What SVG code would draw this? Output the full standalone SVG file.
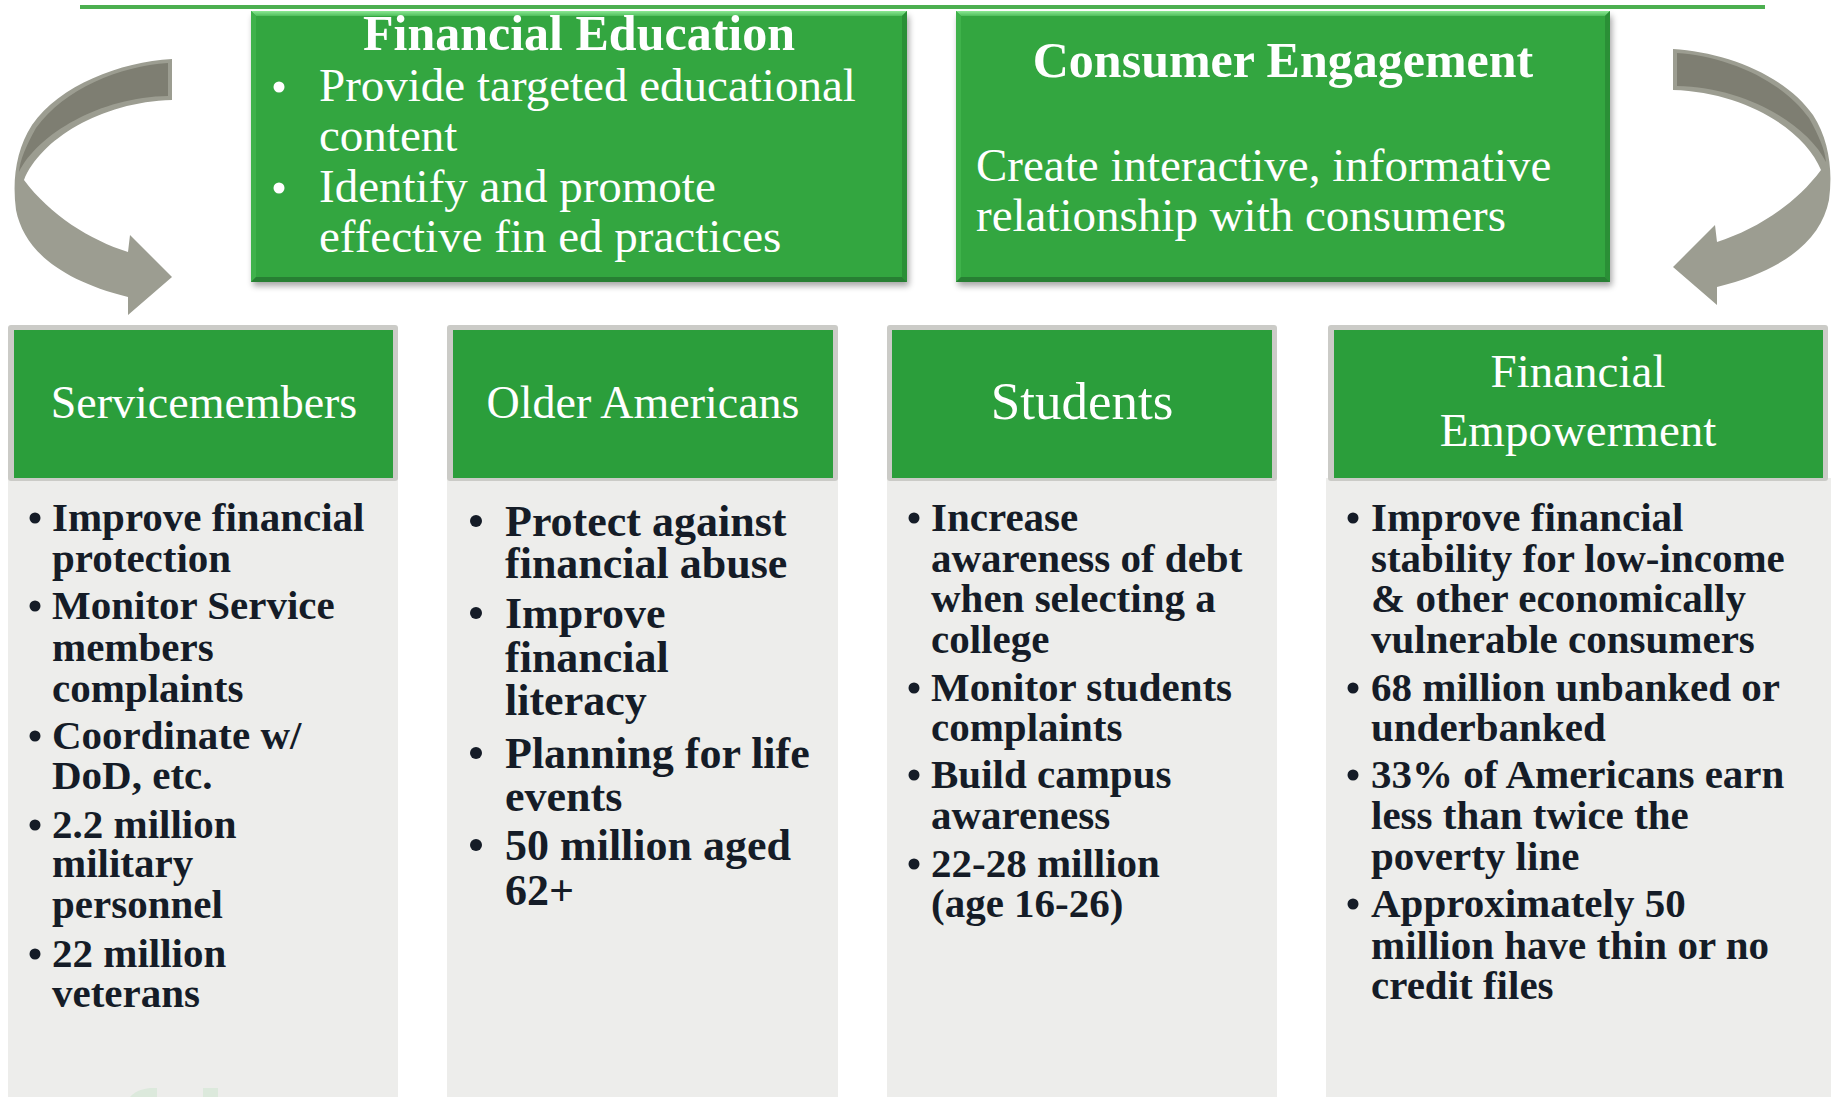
<svg xmlns="http://www.w3.org/2000/svg" width="1839" height="1097" viewBox="0 0 1839 1097">
  <defs>
    <style>
      .box-title { font-family: "Liberation Serif", serif; font-weight: bold; font-size: 50px; fill: #ffffff; text-anchor: middle; }
      .box-text { font-family: "Liberation Serif", serif; font-size: 47px; fill: #ffffff; }
      .col-head { font-family: "Liberation Serif", serif; font-size: 46px; fill: #ffffff; text-anchor: middle; }
      .col-text { font-family: "Liberation Serif", serif; font-weight: bold; font-size: 41px; fill: #151c27; }
      .col-text-lg { font-family: "Liberation Serif", serif; font-weight: bold; font-size: 44px; fill: #151c27; }
      .dot-w { fill: #ffffff; }
      .dot-d { fill: #151c27; }
      .frame { fill: #cbcbc7; }
      .body { fill: #ededeb; }
      .head { fill: #2b9e3b; }
      .green { fill: #33a640; }
      .arrow-light { fill: #9c9d91; }
      .arrow-dark { fill: #7e7e72; }
    </style>
    <filter id="softShadow" x="-10%" y="-10%" width="120%" height="130%">
      <feGaussianBlur stdDeviation="3"/>
    </filter>
    <linearGradient id="bevelTop" x1="0" y1="0" x2="0" y2="1">
      <stop offset="0" stop-color="#8be894"/>
      <stop offset="1" stop-color="#4fbf5b"/>
    </linearGradient>
    <!-- curved arrow, drawn once and mirrored -->
    <g id="curvedArrow">
      <path class="arrow-light" d="M172,59 C120,62 60,85 32,125 C16,150 12,180 16,210 C24,250 60,280 128,297 L128,315 L172,277 L130,235 L128,252 C90,240 50,215 24,180 C40,140 100,102 172,100 Z"/>
      <path class="arrow-dark" d="M168,63 C120,66 64,89 36,128 C26,146 20,160 19,172 C38,134 100,97 168,96 Z"/>
    </g>
  </defs>

  <rect width="1839" height="1097" fill="#ffffff"/>

  <!-- rule along the top -->
  <rect x="80" y="5" width="1685" height="4" fill="#4caf50"/>

  <!-- flow arrows -->
  <g id="connectors">
    <use href="#curvedArrow"/>
    <use href="#curvedArrow" transform="matrix(-1 0 0 1 1845 -10)"/>
  </g>

  <!-- Financial Education -->
  <g id="financial-education">
    <rect x="253" y="16" width="656" height="270" fill="#000" opacity="0.35" filter="url(#softShadow)"/>
    <rect class="green" x="251" y="11" width="656" height="271"/>
    <polygon points="251,11 907,11 902,16 256,16" fill="url(#bevelTop)"/>
    <polygon points="251,11 256,16 256,277 251,282" fill="#3fb24b"/>
    <polygon points="907,11 907,282 902,277 902,16" fill="#2a8f36"/>
    <polygon points="251,282 907,282 902,277 256,277" fill="#277f33"/>
    <text class="box-title" x="579" y="50">Financial Education</text>
    <circle class="dot-w" cx="279" cy="87" r="5.5"/>
    <circle class="dot-w" cx="279" cy="188" r="5.5"/>
    <text class="box-text" x="319" y="101">Provide targeted educational<tspan x="319" dy="50">content</tspan></text>
    <text class="box-text" x="319" y="202">Identify and promote<tspan x="319" dy="50">effective fin ed practices</tspan></text>
  </g>

  <!-- Consumer Engagement -->
  <g id="consumer-engagement">
    <rect x="958" y="16" width="654" height="270" fill="#000" opacity="0.35" filter="url(#softShadow)"/>
    <rect class="green" x="956" y="11" width="654" height="271"/>
    <polygon points="956,11 1610,11 1605,16 961,16" fill="url(#bevelTop)"/>
    <polygon points="956,11 961,16 961,277 956,282" fill="#3fb24b"/>
    <polygon points="1610,11 1610,282 1605,277 1605,16" fill="#2a8f36"/>
    <polygon points="956,282 1610,282 1605,277 961,277" fill="#277f33"/>
    <text class="box-title" x="1283" y="77">Consumer Engagement</text>
    <text class="box-text" x="976" y="181">Create interactive, informative<tspan x="976" dy="50">relationship with consumers</tspan></text>
  </g>

  <!-- Servicemembers -->
  <g id="servicemembers">
    <rect class="body" x="8" y="478" width="390" height="619"/>
    <rect class="frame" x="8" y="325" width="390" height="156" rx="3"/>
    <rect class="head" x="14" y="330" width="379" height="148"/>
    <text class="col-head" x="204" y="418">Servicemembers</text>
    <g class="col-text">
      <circle class="dot-d" cx="35" cy="518" r="5.5"/>
      <text x="52" y="531">Improve financial<tspan x="52" dy="41">protection</tspan></text>
      <circle class="dot-d" cx="35" cy="606" r="5.5"/>
      <text x="52" y="619">Monitor Service<tspan x="52" dy="42">members</tspan><tspan x="52" dy="41">complaints</tspan></text>
      <circle class="dot-d" cx="35" cy="736" r="5.5"/>
      <text x="52" y="749">Coordinate w/<tspan x="52" dy="40">DoD, etc.</tspan></text>
      <circle class="dot-d" cx="35" cy="825" r="5.5"/>
      <text x="52" y="838">2.2 million<tspan x="52" dy="39">military</tspan><tspan x="52" dy="41">personnel</tspan></text>
      <circle class="dot-d" cx="35" cy="954" r="5.5"/>
      <text x="52" y="967">22 million<tspan x="52" dy="40">veterans</tspan></text>
    </g>
    <!-- faint mark near the foot of the column -->
    <path d="M130,1097 C134,1092 141,1089 150,1088 L157,1088 L157,1097 Z" fill="#dce9dc"/>
    <rect x="203" y="1088" width="15" height="9" fill="#dce9dc"/>
  </g>

  <!-- Older Americans -->
  <g id="older-americans">
    <rect class="body" x="447" y="478" width="391" height="619"/>
    <rect class="frame" x="447" y="325" width="391" height="156" rx="3"/>
    <rect class="head" x="453" y="330" width="380" height="148"/>
    <text class="col-head" x="643" y="418">Older Americans</text>
    <g class="col-text-lg">
      <circle class="dot-d" cx="476" cy="521" r="6"/>
      <text x="505" y="536">Protect against<tspan x="505" dy="42">financial abuse</tspan></text>
      <circle class="dot-d" cx="476" cy="613" r="6"/>
      <text x="505" y="628">Improve<tspan x="505" dy="44">financial</tspan><tspan x="505" dy="43">literacy</tspan></text>
      <circle class="dot-d" cx="476" cy="753" r="6"/>
      <text x="505" y="768">Planning for life<tspan x="505" dy="43">events</tspan></text>
      <circle class="dot-d" cx="476" cy="845" r="6"/>
      <text x="505" y="860">50 million aged<tspan x="505" dy="45">62+</tspan></text>
    </g>
  </g>

  <!-- Students -->
  <g id="students">
    <rect class="body" x="887" y="478" width="390" height="619"/>
    <rect class="frame" x="887" y="325" width="390" height="156" rx="3"/>
    <rect class="head" x="892" y="330" width="380" height="148"/>
    <text class="col-head" x="1082" y="419" style="font-size:53px">Students</text>
    <g class="col-text">
      <circle class="dot-d" cx="914" cy="518" r="5.5"/>
      <text x="931" y="531">Increase<tspan x="931" dy="41">awareness of debt</tspan><tspan x="931" dy="40">when selecting a</tspan><tspan x="931" dy="41">college</tspan></text>
      <circle class="dot-d" cx="914" cy="688" r="5.5"/>
      <text x="931" y="701">Monitor students<tspan x="931" dy="40">complaints</tspan></text>
      <circle class="dot-d" cx="914" cy="775" r="5.5"/>
      <text x="931" y="788">Build campus<tspan x="931" dy="41">awareness</tspan></text>
      <circle class="dot-d" cx="914" cy="864" r="5.5"/>
      <text x="931" y="877">22-28 million<tspan x="931" dy="40">(age 16-26)</tspan></text>
    </g>
  </g>

  <!-- Financial Empowerment -->
  <g id="financial-empowerment">
    <rect class="body" x="1326" y="478" width="505" height="619"/>
    <rect class="frame" x="1328" y="325" width="500" height="156" rx="3"/>
    <rect class="head" x="1334" y="330" width="489" height="148"/>
    <text class="col-head" x="1578" y="387" style="font-size:47px">Financial<tspan x="1578" dy="59">Empowerment</tspan></text>
    <g class="col-text">
      <circle class="dot-d" cx="1353" cy="518" r="5.5"/>
      <text x="1371" y="531">Improve financial<tspan x="1371" dy="41">stability for low-income</tspan><tspan x="1371" dy="40">&amp; other economically</tspan><tspan x="1371" dy="41">vulnerable consumers</tspan></text>
      <circle class="dot-d" cx="1353" cy="688" r="5.5"/>
      <text x="1371" y="701">68 million unbanked or<tspan x="1371" dy="40">underbanked</tspan></text>
      <circle class="dot-d" cx="1353" cy="775" r="5.5"/>
      <text x="1371" y="788">33% of Americans earn<tspan x="1371" dy="41">less than twice the</tspan><tspan x="1371" dy="41">poverty line</tspan></text>
      <circle class="dot-d" cx="1353" cy="904" r="5.5"/>
      <text x="1371" y="917">Approximately 50<tspan x="1371" dy="42">million have thin or no</tspan><tspan x="1371" dy="40">credit files</tspan></text>
    </g>
  </g>
</svg>
